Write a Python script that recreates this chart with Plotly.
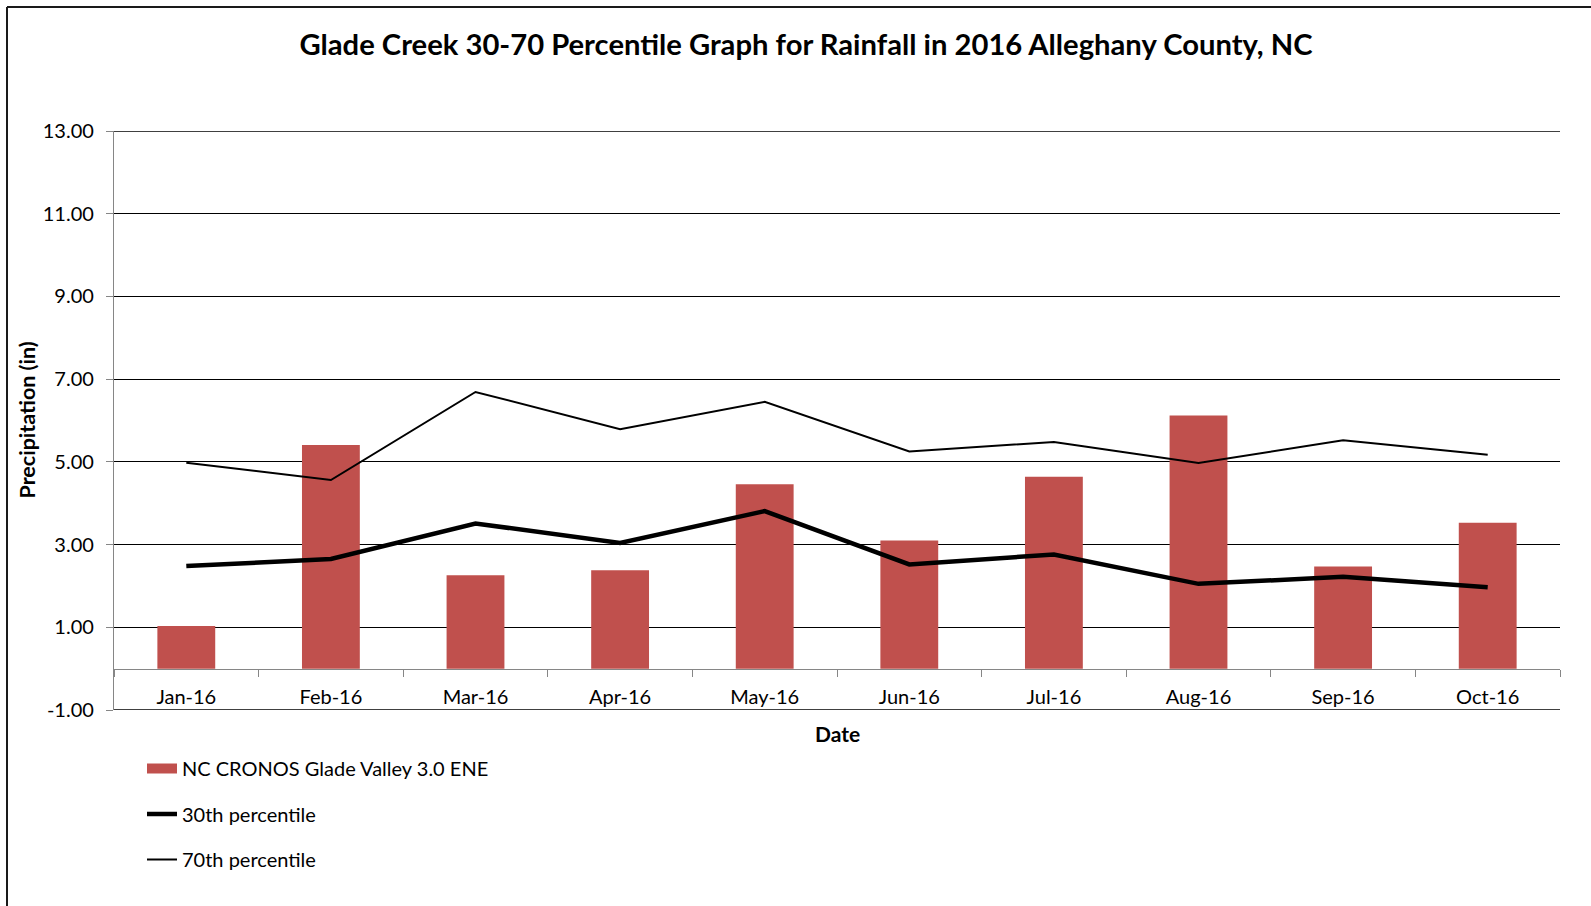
import plotly.graph_objects as go

# Monthly rainfall, Glade Creek area, Alleghany County NC (inches)
months = ["Jan-16", "Feb-16", "Mar-16", "Apr-16", "May-16",
          "Jun-16", "Jul-16", "Aug-16", "Sep-16", "Oct-16"]
cronos_rain = [1.03, 5.41, 2.26, 2.38, 4.46, 3.10, 4.64, 6.12, 2.47, 3.53]
pct30 = [2.48, 2.65, 3.51, 3.04, 3.81, 2.52, 2.76, 2.05, 2.22, 1.97]
pct70 = [4.98, 4.56, 6.69, 5.79, 6.45, 5.25, 5.48, 4.97, 5.52, 5.17]
y_ticks = [-1, 1, 3, 5, 7, 9, 11, 13]
y_tick_text = [f"{v:.2f}" for v in y_ticks]

bar_name = "NC CRONOS Glade Valley 3.0 ENE"
BAR_COLOR = "#C0504D"
FONT = "Lato"

W, H = 1591, 906
ML, MR, MT, MB = 114, 31, 131, 196
PW, PH = W - ML - MR, H - MT - MB
Y_MIN, Y_MAX = -1, 13


def px_x(px):
    return (px - ML) / PW


def px_y(py):
    return (H - MB - py) / PH


fig = go.Figure()

fig.add_trace(go.Bar(
    x=months, y=cronos_rain, name=bar_name,
    marker=dict(color=BAR_COLOR, line=dict(width=0)),
    showlegend=False, legendgroup="a",
))
# legend swatch for the bar series (wide rectangle)
fig.add_trace(go.Scatter(
    x=[None], y=[None], mode="lines", name=bar_name,
    line=dict(color=BAR_COLOR, width=13), legendgroup="a",
))
fig.add_trace(go.Scatter(
    x=months, y=pct30, mode="lines", name="30th percentile",
    line=dict(color="#000000", width=4.5), legendgroup="b",
))
fig.add_trace(go.Scatter(
    x=months, y=pct70, mode="lines", name="70th percentile",
    line=dict(color="#000000", width=2), legendgroup="c",
))

shapes = [
    # outer chart frame (left and top edges; the rest runs off the page)
    dict(type="line", xref="paper", yref="paper",
         x0=px_x(7), x1=px_x(W + 20), y0=px_y(7), y1=px_y(7),
         line=dict(color="#1a1a1a", width=2)),
    dict(type="line", xref="paper", yref="paper",
         x0=px_x(7), x1=px_x(7), y0=px_y(7), y1=px_y(H + 20),
         line=dict(color="#1a1a1a", width=2)),
]
# gridlines on the top and bottom edges of the value range
for v in (Y_MIN, Y_MAX):
    shapes.append(dict(type="line", xref="paper", yref="y", layer="below",
                       x0=0, x1=1, y0=v, y1=v,
                       line=dict(color="#000000", width=1.3)))

fig.update_layout(
    width=W, height=H, autosize=False,
    margin=dict(l=ML, r=MR, t=MT, b=MB, pad=0, autoexpand=False),
    paper_bgcolor="white", plot_bgcolor="white",
    font=dict(family=FONT, color="#000000", size=20),
    bargap=0.6,
    title=dict(
        text="<b>Glade Creek 30-70 Percentile Graph for Rainfall in 2016 Alleghany County, NC</b>",
        x=806 / W, xref="container", xanchor="center",
        y=1 - 45 / H, yref="container", yanchor="middle",
        font=dict(family=FONT, size=29.2, color="#000000"),
    ),
    xaxis=dict(
        type="category",
        anchor="free", position=(0 - Y_MIN) / (Y_MAX - Y_MIN),
        showline=True, linecolor="#868686", linewidth=1.3,
        ticks="outside", tickson="boundaries", ticklen=7,
        tickcolor="#868686", tickwidth=1.3,
        showgrid=False, zeroline=False,
        ticklabelstandoff=10,
        tickfont=dict(family=FONT, size=20, color="#000000"),
        automargin=False,
    ),
    yaxis=dict(
        range=[Y_MIN, Y_MAX], tickvals=y_ticks, ticktext=y_tick_text,
        showline=True, linecolor="#868686", linewidth=1.3,
        ticks="outside", ticklen=7, tickcolor="#868686", tickwidth=1.3,
        showgrid=True, gridcolor="#000000", gridwidth=1.3,
        zeroline=False,
        ticklabelstandoff=8,
        tickfont=dict(family=FONT, size=20, color="#000000"),
        automargin=False,
    ),
    legend=dict(
        xref="container", yref="container",
        x=142 / W, xanchor="left",
        y=1 - 749 / H, yanchor="top",
        traceorder="grouped", tracegroupgap=16.5,
        font=dict(family=FONT, size=20, color="#000000"),
        bgcolor="rgba(0,0,0,0)", borderwidth=0,
        itemsizing="trace",
    ),
    shapes=shapes,
    annotations=[
        dict(text="<b>Date</b>", xref="paper", yref="paper",
             x=0.5, y=px_y(733), xanchor="center", yanchor="middle",
             showarrow=False, font=dict(family=FONT, size=21, color="#000000")),
        dict(text="<b>Precipitation (in)</b>", xref="paper", yref="paper",
             x=px_x(26), y=0.5, xanchor="center", yanchor="middle",
             textangle=-90, showarrow=False,
             font=dict(family=FONT, size=21.5, color="#000000")),
    ],
)

fig.write_html("out.html")
